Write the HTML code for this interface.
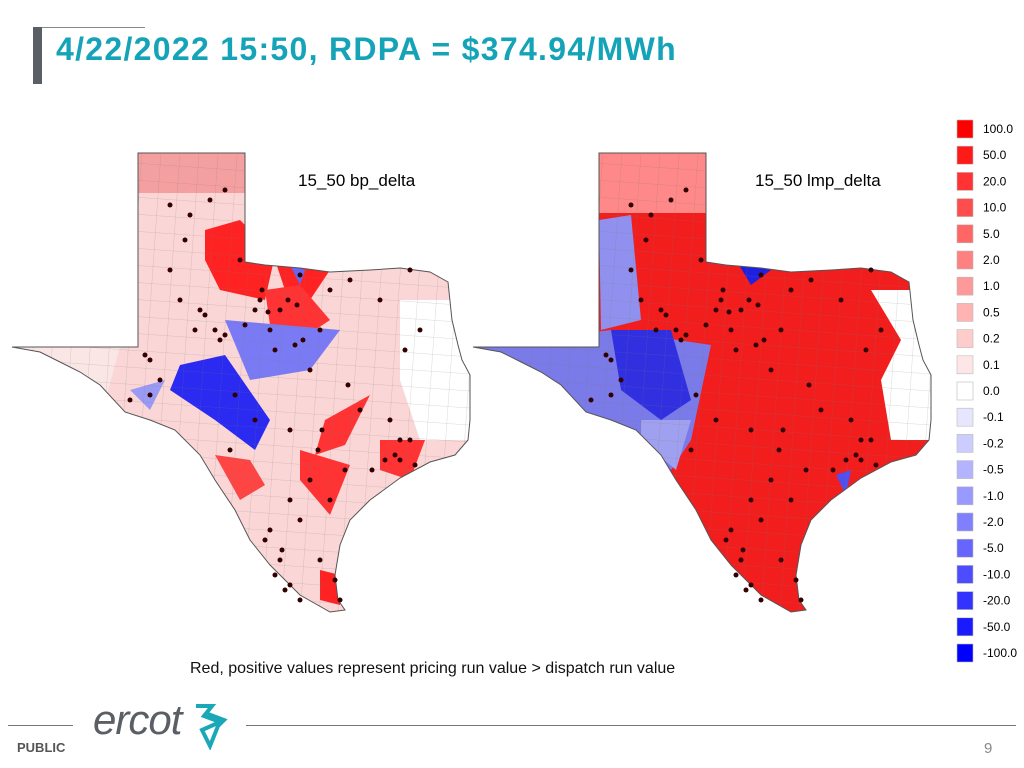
<!DOCTYPE html>
<html><head><meta charset="utf-8"><style>
body{margin:0;width:1024px;height:768px;background:#fff;font-family:"Liberation Sans",sans-serif;position:relative;overflow:hidden}
.t{position:absolute}
</style></head><body>
<div class="t" style="left:33px;top:27px;width:9px;height:57px;background:#5a5f66"></div>
<div class="t" style="left:42px;top:27px;width:103px;height:1px;background:#888"></div>
<div class="t" style="left:56px;top:31px;font-size:32px;font-weight:bold;color:#15a3b8;letter-spacing:1.3px">4/22/2022 15:50, RDPA = $374.94/MWh</div>
<svg class="t" style="left:0;top:0" width="1024" height="768">
<defs>
<clipPath id="tx"><polygon id="txp" points="138,153 245,153 245,262 265,265 300,268 330,272 370,270 400,268 430,272 448,282 452,320 458,345 462,360 470,375 470,420 468,440 455,455 430,462 400,478 370,500 350,520 340,545 335,575 338,600 345,610 330,612 300,595 270,565 250,540 235,510 215,480 200,455 175,430 150,420 125,412 100,385 80,372 60,362 40,352 12,347 138,347"/></clipPath>
<pattern id="cty" width="19" height="17" patternUnits="userSpaceOnUse" patternTransform="rotate(4)"><path d="M0 0 H19 M0 0 V17" stroke="#777" stroke-width="0.5" fill="none" opacity="0.55"/></pattern>
</defs>
<g id="mapL" clip-path="url(#tx)">
<rect x="0" y="140" width="480" height="480" fill="#fbd6d6"/>
<rect x="138" y="153" width="107" height="40" fill="#f5a0a0"/>
<polygon points="400,300 470,300 470,440 420,440 400,380" fill="#ffffff"/>
<polygon points="12,347 120,347 100,420 60,400" fill="#fbe6e6"/>
<polygon points="205,230 240,220 275,255 265,300 220,290 205,260" fill="#f22"/>
<polygon points="275,260 330,270 310,300 285,290" fill="#f22"/>
<polygon points="265,290 300,285 330,320 300,340 270,325" fill="#f33"/>
<polygon points="180,365 225,355 270,420 255,450 215,420 170,390" fill="#2a2af0"/>
<polygon points="225,320 340,330 310,370 250,380" fill="#7a7af5"/>
<polygon points="130,390 165,380 150,410" fill="#9a9af5"/>
<polygon points="325,420 370,395 345,445 315,455" fill="#f33"/>
<polygon points="300,450 350,465 330,515 300,480" fill="#f33"/>
<polygon points="215,455 250,460 265,485 240,500" fill="#f44"/>
<polygon points="380,440 425,440 410,480 380,470" fill="#f33"/>
<polygon points="320,570 340,575 340,605 320,600" fill="#f22"/>
<polygon points="290,265 305,270 300,285" fill="#6666f0"/>
<rect x="0" y="140" width="480" height="480" fill="url(#cty)"/>
</g>
<use href="#txp" fill="none" stroke="#555" stroke-width="1"/>
<g transform="translate(461,0)">
<g clip-path="url(#tx)">
<rect x="0" y="140" width="480" height="480" fill="#f21d1d"/>
<rect x="138" y="153" width="107" height="60" fill="#f88"/>
<polygon points="138,220 170,215 180,320 140,330" fill="#9090ee"/>
<polygon points="12,347 150,330 250,345 230,440 210,470 150,430 60,400" fill="#7a7ae8"/>
<polygon points="150,330 210,330 230,400 200,420 160,390" fill="#3030e0"/>
<polygon points="180,420 230,420 215,470 180,440" fill="#a0a0f0"/>
<polygon points="275,260 310,270 290,285" fill="#2020e0"/>
<polygon points="410,290 470,290 470,440 430,440 420,380 440,340" fill="#fff"/>
<polygon points="375,475 390,470 385,495" fill="#5050f0"/>
<rect x="0" y="140" width="480" height="480" fill="url(#cty)"/>
</g>
<use href="#txp" fill="none" stroke="#555" stroke-width="1"/>
</g>
<g id="dots"></g>
<text x="298" y="186" font-size="17" font-family="Liberation Sans">15_50 bp_delta</text>
<text x="755" y="186" font-size="17" font-family="Liberation Sans">15_50 lmp_delta</text>
<g id="legend"></g>
</svg>
<div class="t" style="left:190px;top:660px;font-size:16px;color:#111">Red, positive values represent pricing run value &gt; dispatch run value</div>
<div class="t" style="left:8px;top:725px;width:65px;height:1px;background:#777"></div>
<div class="t" style="left:246px;top:725px;width:770px;height:1px;background:#777"></div>
<div class="t" style="left:17px;top:740px;font-size:13px;font-weight:bold;color:#555">PUBLIC</div>
<div class="t" style="left:93px;top:696px;font-size:42px;font-style:italic;color:#5a5f66;letter-spacing:-1px">ercot</div>
<svg class="t" style="left:190px;top:702px" width="40" height="48"><path d="M6 4 L22 4 L14 14 L30 20 L12 28 L20 44 L28 24 L34 18 L18 12" fill="none" stroke="#1aa8b8" stroke-width="4"/></svg>
<div class="t" style="left:984px;top:740px;font-size:15px;color:#888">9</div>
<script>
const legendLabels=["100.0","50.0","20.0","10.0","5.0","2.0","1.0","0.5","0.2","0.1","0.0","-0.1","-0.2","-0.5","-1.0","-2.0","-5.0","-10.0","-20.0","-50.0","-100.0"];
const legendColors=["#ff0000","#ff1a1a","#ff3333","#ff4d4d","#ff6666","#ff8080","#ff9999","#ffb3b3","#ffcccc","#ffe6e6","#ffffff","#e6e6ff","#ccccff","#b3b3ff","#9999ff","#8080ff","#6666ff","#4d4dff","#3333ff","#1a1aff","#0000ff"];
const stationsX=[210,225,190,170,240,260,300,280,330,350,380,410,420,200,215,245,270,295,320,310,150,160,130,220,235,255,290,360,390,400,345,330,300,310,280,265,285,300,320,335,340,230,400,405,180,195,255,275,170,185,205,225,262,268,288,297,303,348,372,385,395,410,415,322,318,290,282,270,275,290,150,145];
const stationsY=[200,190,215,270,260,300,275,310,290,280,300,270,330,310,330,325,330,345,330,370,360,380,400,340,395,420,430,410,420,460,470,500,520,480,560,540,590,600,560,580,600,450,440,350,300,330,310,350,205,240,315,335,290,312,300,305,340,385,470,460,455,440,465,430,450,500,550,530,575,585,395,355];
const NS="http://www.w3.org/2000/svg";
const lg=document.getElementById('legend');
legendLabels.forEach((l,i)=>{
 const y=120+i*26.2;
 const r=document.createElementNS(NS,'rect');
 
 
 r.setAttribute('x',957);r.setAttribute('y',y);r.setAttribute('width',16);r.setAttribute('height',18);
 r.setAttribute('fill',legendColors[i]);r.setAttribute('stroke','#bbb');r.setAttribute('stroke-width','0.6');lg.appendChild(r);
 const t=document.createElementNS(NS,'text');
 
 
 t.setAttribute('x',983);t.setAttribute('y',y+13);t.setAttribute('font-size','12');t.setAttribute('font-family','Liberation Sans');t.textContent=l;lg.appendChild(t);
});
const dg=document.getElementById('dots');
[0,461].forEach(off=>stationsX.forEach((x,i)=>{
 const c=document.createElementNS(NS,'circle');
 
 
 c.setAttribute('cx',x+off);c.setAttribute('cy',stationsY[i]);c.setAttribute('r',2.5);c.setAttribute('fill','#300');dg.appendChild(c);
}));
</script>
</body></html>
